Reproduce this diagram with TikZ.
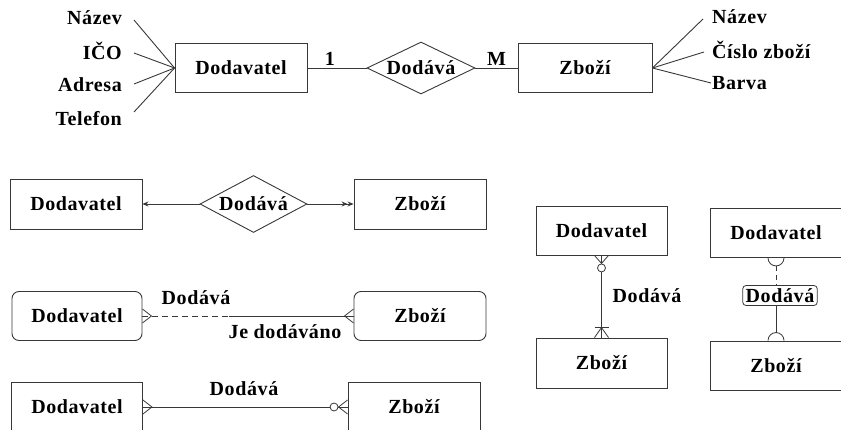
\documentclass[tikz,border=0pt]{standalone}
\usepackage{fontspec}
\setmainfont{Liberation Serif}[LetterSpace=3]
\usetikzlibrary{shapes.geometric,arrows.meta}
\definecolor{linegray}{rgb}{0.22,0.22,0.22}
\begin{document}
\begin{tikzpicture}[x=1pt,y=-1pt,
  every node/.style={font=\fontsize{20}{23}\selectfont\bfseries, inner sep=1pt},
  ent/.style={draw=linegray, line width=0.9pt, minimum width=132pt, minimum height=49pt, inner sep=0pt},
  rent/.style={ent, rounded corners=7pt},
  rel/.style={draw=linegray, diamond, aspect=2, line width=0.9pt, inner sep=0pt},
  conn/.style={draw=linegray, line width=0.9pt},
  attrl/.style={anchor=east},
  attrr/.style={anchor=west},
  tip/.style={conn, line width=0.8pt},
  tag/.style={draw=linegray, line width=0.8pt, rounded corners=3.5pt, inner xsep=3pt, inner ysep=3pt}
]
\useasboundingbox (0,0) rectangle (841,430);

% ---- Chen notation with attributes
\node[ent] (D1) at (241,68) {Dodavatel};
\node[rel, minimum width=108pt, minimum height=52pt] (R1) at (421,68) {Dodává};
\node[ent, minimum width=134pt] (Z1) at (585,68) {Zboží};
\draw[conn] (D1.east) -- (R1.west) node[pos=0.38, above=1pt] (c1) {1};
\draw[conn] (R1.east) -- (Z1.west) node[pos=0.5, above=1pt] (cM) {M};

\node[attrl] (a1) at (123,18) {Název};
\node[attrl] (a2) at (123,51) {IČO};
\node[attrl] (a3) at (123,85) {Adresa};
\node[attrl] (a4) at (123,119) {Telefon};
\draw[conn] ([xshift=11pt,yshift=-2pt]a1.east) -- (D1.west);
\draw[conn] ([xshift=11pt,yshift=-2pt]a2.east) -- (D1.west);
\draw[conn] ([xshift=11pt,yshift=1pt]a3.east) -- (D1.west);
\draw[conn] ([xshift=11pt,yshift=7pt]a4.east) -- (D1.west);

\node[attrr] (b1) at (711,17) {Název};
\node[attrr] (b2) at (711,50) {Číslo zboží};
\node[attrr] (b3) at (711,83) {Barva};
\draw[conn] (Z1.east) -- ([xshift=-8pt,yshift=-2pt]b1.west);
\draw[conn] (Z1.east) -- ([xshift=-7pt,yshift=-2pt]b2.west);
\draw[conn] (Z1.east) -- ([xshift=0pt]b3.west);

% ---- Arrow notation
\node[ent, minimum height=50pt] (D2) at (76,204) {Dodavatel};
\node[rel, minimum width=107pt, minimum height=57pt] (R2) at (253.5,204) {Dodává};
\node[ent, minimum height=50pt] (Z2) at (420,204) {Zboží};
\draw[conn, -{Stealth[length=6pt,width=5pt]}] (R2.west) -- (D2.east);
\draw[conn, -{Stealth[length=6pt,width=5pt]Stealth[length=6pt,width=5pt]}] (R2.east) -- (Z2.west);

% ---- Barker notation, rounded entities
\node[rent, minimum width=130pt] (D3) at (77,316) {Dodavatel};
\node[rent] (Z3) at (420,316) {Zboží};
\coordinate (m3) at (229,316);
\draw[conn, dashed, dash pattern=on 6pt off 4pt] (D3.east) -- (m3);
\draw[conn] (m3) -- (Z3.west);
\draw[tip] ([yshift=7pt]D3.east) -- ([xshift=9pt]D3.east) -- ([yshift=-7pt]D3.east);
\draw[tip] ([yshift=7pt]Z3.west) -- ([xshift=-9pt]Z3.west) -- ([yshift=-7pt]Z3.west);
\node (l3a) at (196,298) {Dodává};
\node (l3b) at (285,332) {Je dodáváno};

% ---- Crow's foot notation, horizontal
\node[ent, minimum width=131pt, minimum height=50pt] (D4) at (77,407) {Dodavatel};
\node[ent, minimum height=50pt] (Z4) at (414,407) {Zboží};
\draw[conn] (D4.east) -- (Z4.west);
\draw[tip] ([yshift=7pt]D4.east) -- ([xshift=9pt]D4.east) -- ([yshift=-7pt]D4.east);
\draw[tip] ([yshift=7pt]Z4.west) -- ([xshift=-9pt]Z4.west) -- ([yshift=-7pt]Z4.west);
\draw[tip, fill=white] ([xshift=-13.5pt]Z4.west) circle[radius=4pt];
\node (l4) at (244,389) {Dodává};

% ---- Crow's foot notation, vertical
\node[ent, minimum width=131pt] (D5) at (601.5,230.5) {Dodavatel};
\node[ent, minimum width=131pt, minimum height=50pt] (Z5) at (601.5,363) {Zboží};
\draw[conn] (D5.south) -- (Z5.north);
\draw[tip] ([xshift=-7pt]D5.south) -- ([yshift=-8pt]D5.south) -- ([xshift=7pt]D5.south);
\draw[tip, fill=white] ([yshift=-12.5pt]D5.south) circle[radius=4pt];
\draw[tip] ([xshift=-7pt]Z5.north) -- ([yshift=10pt]Z5.north) -- ([xshift=7pt]Z5.north);
\draw[tip] ([xshift=-7pt,yshift=10pt]Z5.north) -- ([xshift=7pt,yshift=10pt]Z5.north);
\node (l5) at (647,296) {Dodává};

% ---- Half-circle notation with labelled link
\node[ent] (D6) at (776,233) {Dodavatel};
\node[ent] (Z6) at (776,365.5) {Zboží};
\node[tag] (L6) at (780,295.5) {Dodává};
\draw[tip] ([xshift=-8pt]D6.south) arc[start angle=180, end angle=360, radius=8pt];
\draw[tip] ([xshift=-8pt]Z6.north) arc[start angle=180, end angle=0, radius=8pt];
\draw[conn, dashed, dash pattern=on 5pt off 4pt] ([yshift=-8pt]D6.south) -- (L6.north -| D6.south);
\draw[conn] (L6.south -| Z6.north) -- ([yshift=8pt]Z6.north);
\end{tikzpicture}
\end{document}
